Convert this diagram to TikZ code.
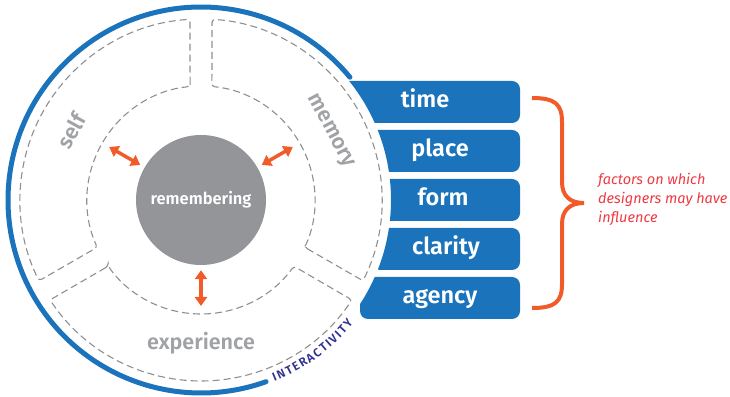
\documentclass[tikz,border=0pt]{standalone}
\usepackage{fontspec}
\setmainfont{Fira Sans}
\newfontfamily\semibold{Fira Sans SemiBold}
\usetikzlibrary{arrows.meta, decorations.text}

\definecolor{tabblue}{HTML}{1A73BB}
\definecolor{coregray}{HTML}{939598}
\definecolor{labelgray}{HTML}{A0A2A5}
\definecolor{dashgray}{HTML}{8F8F8F}
\definecolor{arrowred}{HTML}{F15A29}
\definecolor{notered}{HTML}{EE3A43}
\definecolor{interblue}{HTML}{2E3192}

\begin{document}
\begin{tikzpicture}[
  x=1pt, y=1pt,
  ring/.style={line width=5pt, tabblue, line cap=round},
  sector/.style={dashgray, line width=1.1pt, dash pattern=on 7pt off 4pt, rounded corners=3pt},
  part/.style={font=\semibold\fontsize{21.5}{21.5}\selectfont, text=labelgray, inner sep=0pt},
  core/.style={circle, fill=coregray, minimum size=130pt, inner sep=0pt, text=white, font=\semibold\fontsize{16.5}{16.5}\selectfont},
  link/.style={arrowred, line width=3.5pt, {Triangle[length=9pt,width=12pt]}-{Triangle[length=9pt,width=12pt]}, shorten <=5pt, shorten >=8pt},
  factor/.style={fill=tabblue, rounded corners=8pt, minimum height=42pt, inner sep=0pt, text height=16pt, text depth=5pt, text=white, font=\semibold\fontsize{23.5}{23.5}\selectfont},
  brace/.style={arrowred, line width=4pt},
  note/.style={text=notered, font=\itshape\fontsize{14.5}{19}\selectfont, align=left, anchor=west, inner sep=0pt}
  ]
\useasboundingbox (0,0) rectangle (730,396);
\coordinate (C) at (201,196);

% blue ring and its caption
\draw[ring] (C) ++(39.5:193) arc[start angle=39.5, end angle=289.7, radius=193];
\path[decorate, decoration={text along path, text align={fit to path}, text color=interblue,
    text={|\semibold\fontsize{12}{12}\selectfont|INTERACTIVITY}}]
  (C) ++(-68:196) arc[start angle=-68, end angle=-39, radius=196];

\begin{scope}[shift={(201,196)}]
  % the three dashed parts round the core
  \foreach \name/\mid in {self/150, memory/30, experience/270}{
    \draw[sector] ({\mid-54.5}:114) -- ({\mid-56.5}:181)
      arc[start angle={\mid-56.5}, end angle={\mid+56.5}, radius=181]
      -- ({\mid+54.5}:114)
      arc[start angle={\mid+54.5}, end angle={\mid-54.5}, radius=114] -- cycle;
    \coordinate (\name-in) at (\mid:114);
  }
  \node[part, rotate=61] (self-label) at (152:147) {self};
  \node[part, rotate=-62] (memory-label) at (28:146) {memory};
  \node[part] (experience-label) at (270:143) {experience};

  \node[core] (remember) at (0,0) {remembering};
  \foreach \name/\mid in {self/150, memory/30, experience/270}
    \draw[link] (remember.\mid) -- (\name-in);
\end{scope}

% tabs, cut by the ring
\begin{scope}[even odd rule]
  \clip (300,0) rectangle (560,396) (C) circle[radius=190];
  \foreach \name/\ty/\tx in {time/294/425, place/245/440, form/196/443, clarity/147/446, agency/98/440}
    \node[factor, minimum width={(520-\tx)*2pt}] (\name) at (\tx,\ty) {\name};
\end{scope}

% brace and note
\draw[brace] (532,298) .. controls (555,298) and (562,292) .. (562,274) -- (562,214)
  .. controls (562,200) and (570,193) .. (584,193)
  .. controls (570,193) and (562,186) .. (562,172) -- (562,112)
  .. controls (562,94) and (555,88) .. (532,88);
\node[note] (factors-note) at (598,197) {factors on which\\designers may have\\influence};

\end{tikzpicture}
\end{document}
